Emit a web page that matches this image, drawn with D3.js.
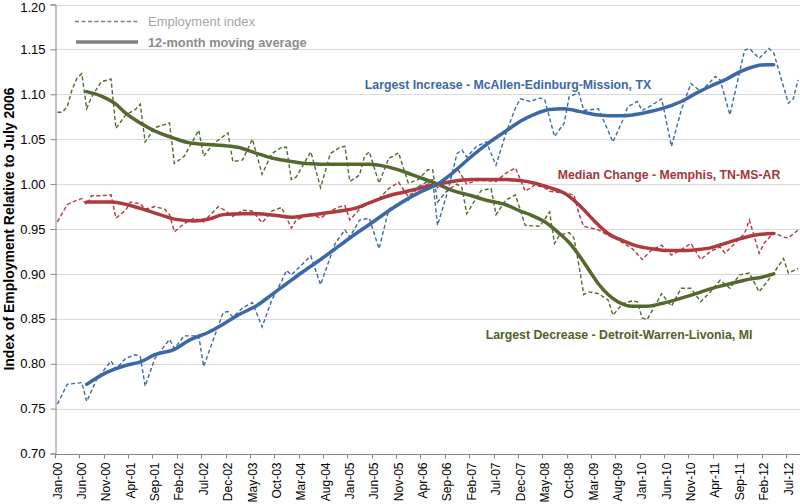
<!DOCTYPE html>
<html>
<head>
<meta charset="utf-8">
<script src="https://cdn.jsdelivr.net/npm/d3@7"></script>
<style>
  body { margin: 0; background: #fff; }
  svg { font-family: "Liberation Sans", Arial, sans-serif; display: block; }
</style>
</head>
<body>
<div id="chart"></div>
<script>
const width = 800
const height = 504
const margin = ({ top: 4.5, right: 0, bottom: 50.5, left: 55 })

// months Jan-00 .. Sep-12 (categories)
const months = d3.utcMonth.range(new Date(Date.UTC(2000, 0, 1)), new Date(Date.UTC(2012, 9, 1)))
const monthLabel = d3.utcFormat("%b-%y")

const yTicks = [0.70, 0.75, 0.80, 0.85, 0.90, 0.95, 1.00, 1.05, 1.10, 1.15, 1.20]

// [month index since Jan-00, value]
const mcallenIndex = [[0,0.755],[2,0.777],[5,0.779],[6,0.758],[8,0.782],[11,0.803],[12,0.794],[14,0.806],[16,0.810],[17,0.808],[18,0.775],[20,0.806],[23,0.827],[24,0.817],[26,0.831],[29,0.831],[30,0.797],[34,0.857],[35,0.858],[36,0.852],[38,0.862],[40,0.868],[42,0.841],[44,0.871],[46,0.892],[47,0.904],[48,0.899],[52,0.920],[54,0.888],[57,0.934],[59,0.949],[60,0.941],[62,0.960],[64,0.962],[66,0.928],[68,0.972],[71,0.982],[72,0.982],[74,0.997],[76,1.003],[77,1.005],[78,0.954],[80,0.990],[82,1.034],[83,1.038],[84,1.030],[86,1.042],[88,1.047],[90,1.021],[92,1.056],[94,1.085],[95,1.095],[97,1.092],[99,1.096],[100,1.094],[102,1.053],[104,1.068],[105,1.097],[107,1.102],[108,1.082],[111,1.084],[114,1.047],[116,1.071],[117,1.086],[119,1.092],[120,1.082],[122,1.088],[124,1.095],[126,1.042],[128,1.082],[130,1.112],[132,1.103],[134,1.114],[135,1.120],[136,1.116],[138,1.077],[141,1.149],[142,1.151],[144,1.140],[146,1.151],[147,1.146],[148,1.127],[150,1.090],[151,1.095],[152,1.116]]
const mcallenAvg = [[6,0.777],[10,0.790],[14,0.798],[17,0.802],[20,0.810],[24,0.816],[27,0.826],[31,0.835],[34,0.844],[37,0.854],[41,0.865],[44,0.877],[47,0.889],[50,0.901],[54,0.916],[57,0.928],[60,0.940],[64,0.955],[69,0.974],[74,0.990],[78,1.000],[81,1.012],[85,1.031],[88,1.044],[92,1.059],[95,1.070],[98,1.078],[101,1.083],[104,1.084],[107,1.081],[111,1.077],[115,1.076],[118,1.077],[121,1.080],[124,1.084],[128,1.092],[131,1.101],[134,1.109],[137,1.116],[140,1.125],[143,1.131],[146,1.133],[147,1.133]]

const memphisIndex = [[0,0.958],[2,0.977],[3,0.980],[5,0.984],[6,0.977],[7,0.987],[9,0.987],[11,0.988],[12,0.962],[14,0.971],[15,0.980],[17,0.978],[18,0.972],[20,0.975],[22,0.972],[23,0.966],[24,0.947],[26,0.956],[28,0.962],[30,0.958],[33,0.975],[34,0.972],[36,0.964],[38,0.971],[40,0.970],[42,0.957],[44,0.970],[46,0.974],[48,0.951],[49,0.960],[52,0.967],[54,0.962],[56,0.970],[58,0.975],[59,0.976],[60,0.960],[62,0.972],[64,0.980],[66,0.984],[68,0.995],[70,1.002],[72,0.986],[74,0.996],[76,1.000],[77,1.003],[78,0.996],[80,1.008],[82,1.018],[84,1.000],[86,1.004],[88,1.004],[90,1.003],[92,1.012],[94,1.018],[96,0.992],[98,0.999],[100,0.996],[101,0.992],[104,0.990],[106,0.988],[107,0.967],[108,0.953],[111,0.949],[113,0.943],[115,0.938],[118,0.928],[120,0.916],[122,0.927],[124,0.932],[126,0.921],[128,0.927],[130,0.934],[132,0.916],[134,0.925],[136,0.930],[137,0.923],[139,0.934],[141,0.945],[142,0.960],[144,0.923],[145,0.934],[147,0.946],[149,0.941],[150,0.940],[152,0.949]]
const memphisAvg = [[6,0.980],[11,0.980],[17,0.973],[21,0.966],[24,0.961],[28,0.959],[31,0.961],[34,0.966],[38,0.967],[41,0.967],[45,0.965],[48,0.963],[51,0.965],[54,0.967],[58,0.970],[61,0.973],[64,0.979],[68,0.987],[71,0.991],[74,0.995],[78,1.000],[81,1.003],[85,1.005],[88,1.005],[92,1.005],[95,1.004],[98,1.001],[101,0.996],[104,0.990],[107,0.977],[110,0.960],[113,0.945],[116,0.937],[119,0.931],[122,0.928],[125,0.926],[128,0.926],[131,0.927],[134,0.929],[137,0.934],[140,0.939],[143,0.943],[147,0.945]]

const detroitIndex = [[0,1.080],[1,1.080],[2,1.086],[3,1.105],[4,1.118],[5,1.123],[6,1.084],[7,1.097],[9,1.114],[11,1.117],[12,1.062],[14,1.077],[16,1.083],[17,1.089],[18,1.047],[20,1.063],[23,1.068],[24,1.023],[26,1.031],[29,1.060],[30,1.031],[32,1.045],[35,1.057],[36,1.025],[38,1.027],[40,1.050],[42,1.011],[44,1.034],[46,1.041],[47,1.041],[48,1.005],[49,1.008],[52,1.036],[54,0.996],[56,1.034],[58,1.041],[59,1.042],[60,1.003],[62,1.010],[63,1.031],[64,1.036],[66,1.001],[68,1.029],[69,1.031],[70,1.035],[72,1.001],[74,1.005],[76,1.016],[77,1.016],[78,0.980],[80,0.993],[82,1.000],[83,0.996],[84,0.967],[86,0.985],[87,0.993],[89,0.995],[90,0.966],[92,0.982],[94,0.988],[96,0.954],[99,0.953],[101,0.969],[102,0.934],[103,0.943],[105,0.946],[106,0.940],[107,0.910],[108,0.877],[109,0.880],[111,0.878],[113,0.871],[114,0.854],[116,0.867],[118,0.870],[119,0.869],[120,0.851],[121,0.849],[124,0.878],[126,0.864],[128,0.884],[130,0.884],[132,0.869],[134,0.880],[136,0.893],[138,0.884],[140,0.899],[142,0.901],[144,0.880],[147,0.901],[149,0.917],[150,0.901],[152,0.906]]
const detroitAvg = [[6,1.103],[9,1.098],[12,1.089],[14,1.079],[17,1.068],[20,1.059],[24,1.051],[27,1.046],[31,1.044],[34,1.043],[37,1.041],[41,1.034],[44,1.029],[47,1.026],[51,1.023],[57,1.022],[64,1.022],[67,1.020],[71,1.014],[74,1.008],[78,1.000],[81,0.993],[85,0.987],[88,0.982],[92,0.977],[95,0.970],[97,0.966],[100,0.958],[103,0.945],[105,0.935],[107,0.921],[109,0.905],[111,0.889],[113,0.877],[115,0.869],[118,0.864],[121,0.864],[124,0.867],[128,0.873],[131,0.878],[135,0.885],[138,0.889],[141,0.893],[145,0.897],[147,0.900]]

const series = [
    { name: "detroit", color: "#55692d", index: detroitIndex, avg: detroitAvg },
    { name: "memphis", color: "#ad3a3e", index: memphisIndex, avg: memphisAvg },
    { name: "mcallen", color: "#3c69a6", index: mcallenIndex, avg: mcallenAvg }
]

const x = d3.scaleBand(months.map(monthLabel), [margin.left, margin.left + months.length * 4.873])
const y = d3.scaleLinear([0.70, 1.20], [height - margin.bottom, margin.top])

const px = i => x(monthLabel(months[i])) + x.bandwidth() / 2

const svg = d3.select("#chart").append("svg")
    .attr("width", width)
    .attr("height", height)

// grid
svg.append("g")
    .attr("stroke", "#d9d9d9")
    .selectAll("line")
    .data(yTicks.slice(1))
    .join("line")
    .attr("x1", margin.left)
    .attr("x2", width)
    .attr("y1", d => Math.round(y(d)) + 0.5)
    .attr("y2", d => Math.round(y(d)) + 0.5)

// y axis
svg.append("g")
    .attr("transform", `translate(${margin.left + 0.5},0)`)
    .call(d3.axisLeft(y).tickValues(yTicks).tickFormat(d3.format(".2f")).tickSize(5).tickPadding(5))
    .call(g => g.selectAll(".domain, line").attr("stroke", "#868686"))
    .call(g => g.selectAll("text").attr("font-size", 13).attr("fill", "#000"))
    // keep the top label inside the picture
    .call(g => g.selectAll("text").filter(d => d === 1.20).attr("dy", "0.5em"))

// x axis: labels at every 5th category centre, ticks on category boundaries
const labelMonths = x.domain().filter((d, i) => i % 5 === 0)
svg.append("g")
    .attr("transform", `translate(0,${Math.round(y(0.70)) + 0.5})`)
    .call(d3.axisBottom(x).tickValues(labelMonths).tickSize(0).tickSizeOuter(0))
    .call(g => g.select(".domain").attr("stroke", "#868686").attr("d", `M${margin.left},0H${width}`))
    .call(g => g.selectAll("text")
        .attr("font-size", 12)
        .attr("fill", "#000")
        .attr("transform", "rotate(-90)")
        .attr("x", -8)
        .attr("y", 0)
        .attr("dy", "0.35em")
        .attr("text-anchor", "end"))
    .call(g => g.append("g")
        .attr("stroke", "#868686")
        .selectAll("line")
        .data(labelMonths)
        .join("line")
        .attr("x1", d => Math.round(x(d)) + 0.5)
        .attr("x2", d => Math.round(x(d)) + 0.5)
        .attr("y1", 0)
        .attr("y2", 4))

// y axis title
svg.append("text")
    .attr("transform", `translate(14,${(y(0.70) + y(1.20)) / 2}) rotate(-90)`)
    .attr("text-anchor", "middle")
    .attr("font-size", 14)
    .attr("font-weight", "bold")
    .attr("fill", "#000")
    .text("Index of Employment Relative to July 2006")

const line = d3.line()
    .x(d => px(d[0]))
    .y(d => y(d[1]))

const smooth = d3.line()
    .curve(d3.curveMonotoneX)
    .x(d => px(d[0]))
    .y(d => y(d[1]))

// dashed monthly index
svg.append("g")
    .attr("fill", "none")
    .selectAll("path")
    .data(series)
    .join("path")
    .attr("stroke", d => d.color)
    .attr("stroke-width", 1.4)
    .attr("stroke-dasharray", "4,2.5")
    .attr("d", d => line(d.index))

// 12-month moving averages
svg.append("g")
    .attr("fill", "none")
    .selectAll("path")
    .data(series)
    .join("path")
    .attr("stroke", d => d.color)
    .attr("stroke-width", 3.5)
    .attr("stroke-linecap", "round")
    .attr("d", d => smooth(d.avg))

// series labels
const labels = [
    { text: "Largest Increase - McAllen-Edinburg-Mission, TX", color: "#3c69a6", cx: 508, cy: 89 },
    { text: "Median Change - Memphis, TN-MS-AR", color: "#a5373c", cx: 669, cy: 179 },
    { text: "Largest Decrease - Detroit-Warren-Livonia, MI", color: "#4f6228", cx: 619, cy: 339 }
]
svg.append("g")
    .selectAll("text")
    .data(labels)
    .join("text")
    .attr("x", d => d.cx)
    .attr("y", d => d.cy)
    .attr("text-anchor", "middle")
    .attr("font-size", 12.3)
    .attr("font-weight", "bold")
    .attr("fill", d => d.color)
    .text(d => d.text)

// legend
const legend = svg.append("g")
legend.append("line")
    .attr("x1", 75).attr("x2", 138).attr("y1", 21.5).attr("y2", 21.5)
    .attr("stroke", "#808080").attr("stroke-width", 1.3).attr("stroke-dasharray", "4,2.5")
legend.append("text")
    .attr("x", 148).attr("y", 26)
    .attr("font-size", 13).attr("fill", "#a6a6a6")
    .text("Employment index")
legend.append("line")
    .attr("x1", 76).attr("x2", 138).attr("y1", 42).attr("y2", 42)
    .attr("stroke", "#808080").attr("stroke-width", 3.5)
legend.append("text")
    .attr("x", 148).attr("y", 46.5)
    .attr("font-size", 12.8).attr("font-weight", "bold").attr("fill", "#8c8c8c")
    .text("12-month moving average")
</script>
</body>
</html>
